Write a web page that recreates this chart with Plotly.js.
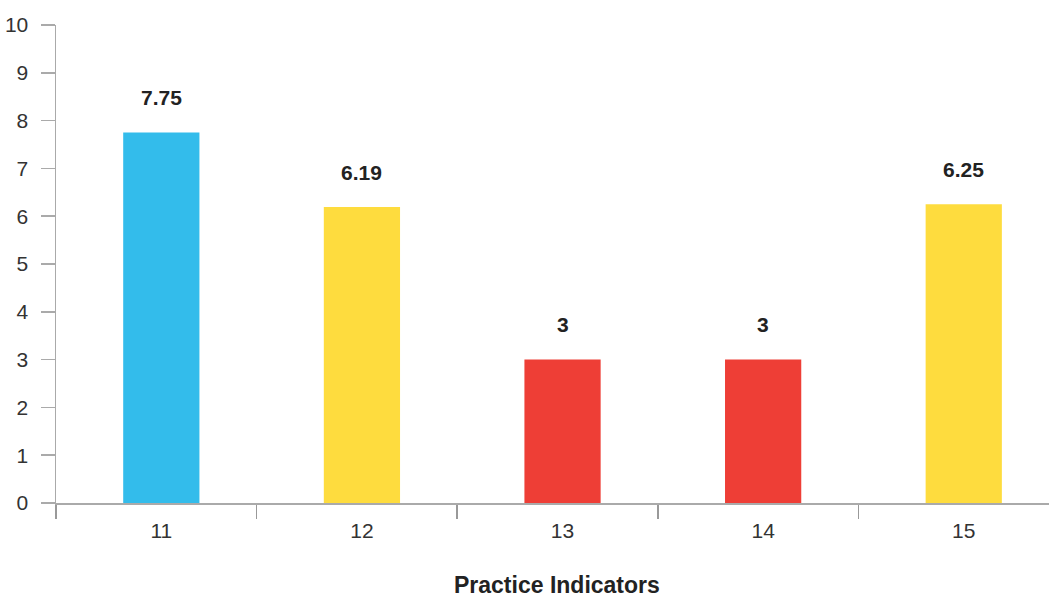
<!DOCTYPE html>
<html><head><meta charset="utf-8">
<script src="https://cdn.plot.ly/plotly-3.0.1.min.js"></script>
<style>html,body{margin:0;padding:0;background:#fff;overflow:hidden}</style>
</head><body><div id="chart" style="width:1049px;height:599px"></div>
<script>
const categories = ["11", "12", "13", "14", "15"];
const values = [7.75, 6.19, 3, 3, 6.25];
const valueLabels = ["7.75", "6.19", "3", "3", "6.25"];
const barColors = ["#33BCEB", "#FEDC3E", "#EE3E36", "#EE3E36", "#FEDC3E"];
const yTicks = [0,1,2,3,4,5,6,7,8,9,10];

const barWidth = 0.38;
const trace = {
  type: "bar", x: categories, y: values,
  marker: {color: barColors}, width: barWidth, offset: -barWidth / 2 + 0.025,
  hoverinfo: "skip"
};
const annotations = categories.map((c, i) => ({
  x: i, y: values[i], xref: "x", yref: "y", text: "<b>" + valueLabels[i] + "</b>",
  showarrow: false, yanchor: "middle", yshift: 35, xshift: 5,
  font: {family: "Liberation Sans, Arial, sans-serif", size: 21, color: "#222"}
}));
annotations.push({
  xref: "paper", yref: "paper", x: 501/993, y: -0.172, yanchor: "middle",
  text: "<b>Practice Indicators</b>", showarrow: false,
  font: {family: "Liberation Sans, Arial, sans-serif", size: 23, color: "#222"}
});
const layout = {
  width: 1049, height: 599,
  margin: {l: 56, r: 0, t: 25, b: 96},
  paper_bgcolor: "#fff", plot_bgcolor: "#fff",
  showlegend: false,
  font: {family: "Liberation Sans, Arial, sans-serif", size: 20, color: "#333"},
  xaxis: {
    type: "category", range: [-0.5, 4.45],
    showline: true, linecolor: "#aaa", linewidth: 1.5,
    ticks: "outside", tickson: "boundaries", ticklen: 14, tickcolor: "#999", tickwidth: 1.5,
    showgrid: false, zeroline: false,
    tickfont: {size: 21, color: "#333"}, ticklabelstandoff: 8, ticklabelshift: 5
  },
  yaxis: {
    range: [0, 10], tickmode: "array", tickvals: yTicks, ticktext: yTicks.map(String),
    showline: true, linecolor: "#aaa", linewidth: 1.5,
    ticks: "outside", ticklen: 14, tickcolor: "#aaa", tickwidth: 1.5,
    showgrid: false, zeroline: false,
    tickfont: {size: 21, color: "#333"}, ticklabelstandoff: 8
  },
  annotations: annotations
};
Plotly.newPlot("chart", [trace], layout, {displayModeBar: false, staticPlot: true});
</script></body></html>
